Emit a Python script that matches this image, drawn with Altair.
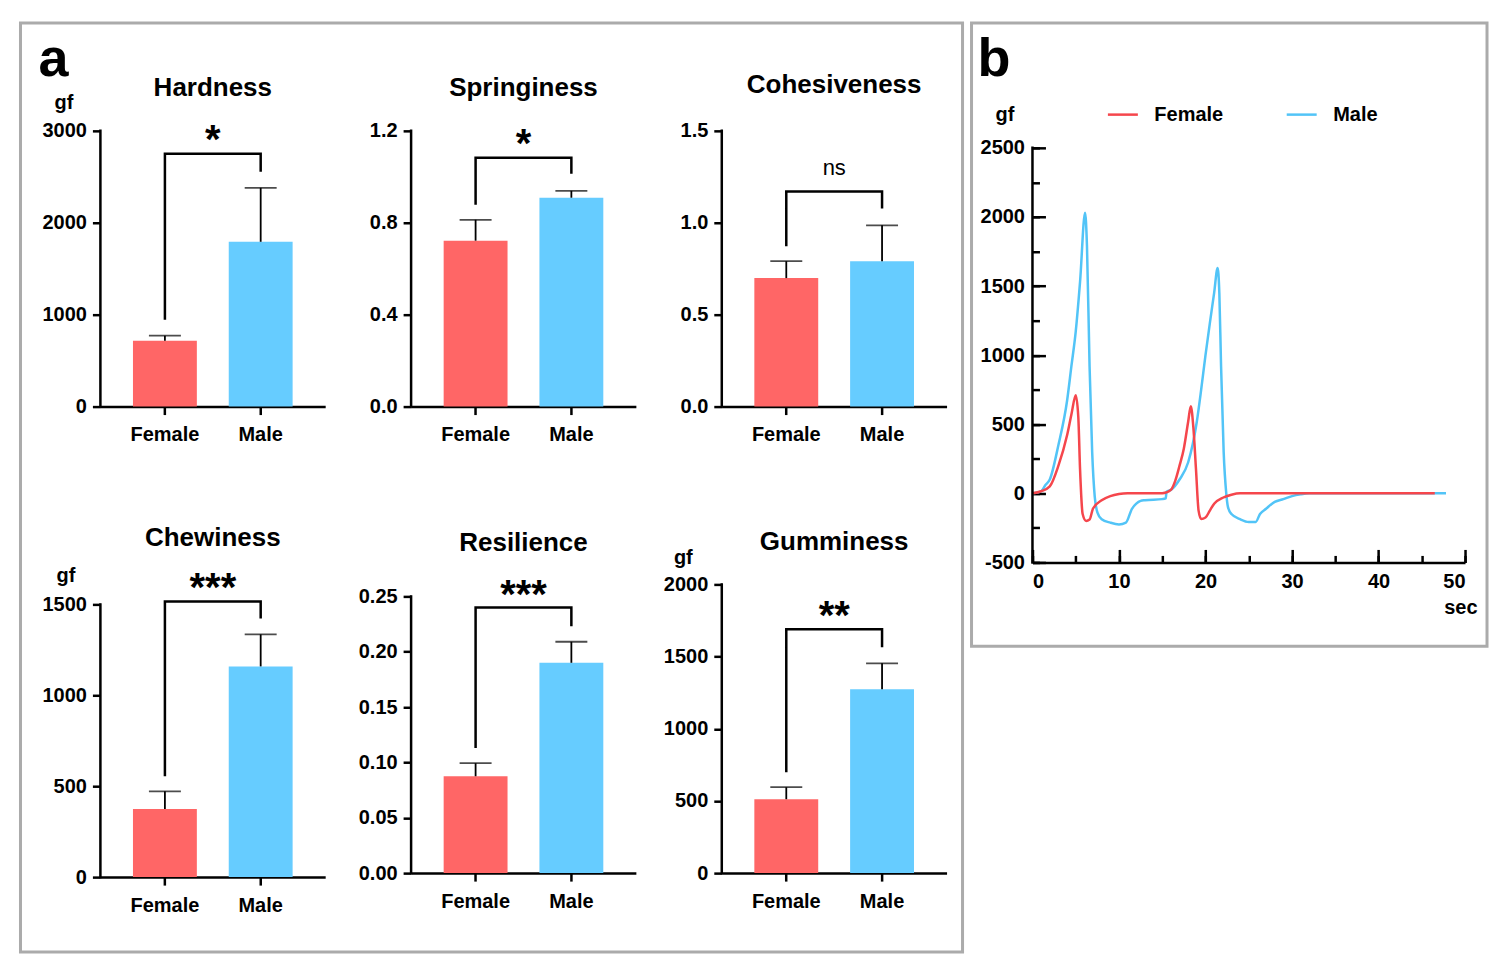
import altair as alt
import pandas as pd

FONT = "Liberation Sans"
INK = "#000000"
FRAME_GREY = "#ABABAB"

GROUPS = ["Female", "Male"]
BAR_COLOURS = ["#FF6666", "#66CCFF"]
LINE_COLOURS = ["#F5464C", "#52C4F7"]

# ---- panel a: bar means and upper error arm ----
HARDNESS_MEAN = [717, 1793]
HARDNESS_SD = [55, 587]
SPRINGINESS_MEAN = [0.722, 0.909]
SPRINGINESS_SD = [0.091, 0.030]
COHESIVENESS_MEAN = [0.699, 0.791]
COHESIVENESS_SD = [0.092, 0.195]
CHEWINESS_MEAN = [374, 1159]
CHEWINESS_SD = [98, 176]
RESILIENCE_MEAN = [0.0875, 0.190]
RESILIENCE_SD = [0.0118, 0.019]
GUMMINESS_MEAN = [512, 1273]
GUMMINESS_SD = [83, 180]

HARDNESS_TICKS = [0, 1000, 2000, 3000]
SPRINGINESS_TICKS = [0.0, 0.4, 0.8, 1.2]
COHESIVENESS_TICKS = [0.0, 0.5, 1.0, 1.5]
CHEWINESS_TICKS = [0, 500, 1000, 1500]
RESILIENCE_TICKS = [0.0, 0.05, 0.10, 0.15, 0.20, 0.25]
GUMMINESS_TICKS = [0, 500, 1000, 1500, 2000]

# significance brackets: female leg foot, bracket level, male leg foot
HARDNESS_BRACKET = [946, 2750, 2554]
SPRINGINESS_BRACKET = [0.878, 1.083, 1.013]
COHESIVENESS_BRACKET = [0.872, 1.170, 1.078]
CHEWINESS_BRACKET = [555, 1516, 1423]
RESILIENCE_BRACKET = [0.113, 0.240, 0.223]
GUMMINESS_BRACKET = [699, 1689, 1564]

SIG_LABELS = ["*", "*", "ns", "***", "***", "**"]
SIG_LEVELS = [2957, 1.165, 1.278, 1615, 0.256, 1813]

# ---- panel b: texture profile curves ----
FEMALE_T = [0, 1, 2, 3, 4, 4.5, 5.0, 5.3, 5.5, 5.8, 6.2, 6.6, 7, 8, 9, 10, 11, 15,
            16, 16.5, 17, 17.5, 18, 18.3, 18.6, 18.9, 19.2, 19.5, 20, 20.5, 21, 22,
            23, 24, 46.5]
FEMALE_F = [0, 15, 50, 200, 420, 570, 710, 550, 175, -150, -200, -190, -110, -50,
            -20, -5, 0, 0, 25, 90, 200, 325, 520, 630, 475, 175, -125, -185, -175,
            -125, -75, -32, -10, 0, 0]
MALE_T = [0, 1, 1.5, 2, 3, 4, 4.5, 5, 5.5, 6.08, 6.3, 6.6, 6.9, 7.2, 7.5, 8, 9, 10,
          10.8, 11.5, 12, 12.5, 13, 15, 15.4, 15.5, 16, 17, 18, 19, 19.5, 20, 20.5,
          21, 21.4, 21.6, 21.8, 22.1, 22.4, 22.6, 23, 24, 25, 25.8, 26.3, 27, 28, 29,
          30, 31, 32, 47.8]
MALE_F = [0, 15, 60, 100, 350, 670, 920, 1170, 1530, 2030, 1790, 920, 300, -25, -137,
          -187, -212, -225, -212, -112, -75, -55, -50, -42, -37, 12, 25, 100, 225, 520,
          750, 1000, 1230, 1450, 1630, 1450, 920, 300, 0, -100, -150, -187, -207, -207,
          -150, -112, -62, -42, -20, -7, 0, 0]

B_X_TICKS = [0, 10, 20, 30, 40, 50]
B_X_MINOR = [0, 5, 10, 15, 20, 25, 30, 35, 40, 45, 50]
B_Y_TICKS = [-500, 0, 500, 1000, 1500, 2000, 2500]
B_Y_MINOR = [-500, -250, 0, 250, 500, 750, 1000, 1250, 1500, 1750, 2000, 2250, 2500]

# ---- layout ----
W = 225
STEP = 96
WB, HB_AXIS, HB_HEAD = 433, 415, 17
LABEL_SIZE = 20


def y_enc(field, ticks, fmt, top, unit):
    axis = {"values": ticks, "format": fmt, "domain": False, "tickSize": 8, "labelPadding": 6}
    if unit:
        axis.update(title=unit[0], titleAngle=0, titleX=unit[1], titleY=unit[2],
                    titleAlign="center", titleBaseline="alphabetic")
    else:
        axis["title"] = None
    return alt.Y(field, scale=alt.Scale(domain=[0, top], nice=False, zero=True),
                 axis=alt.Axis(**axis))


X_BAND = alt.X(
    "group:N",
    scale=alt.Scale(domain=GROUPS, paddingInner=0.333, paddingOuter=0.34),
    axis=alt.Axis(title=None, labelAngle=0, tickSize=8, labelPadding=10),
)


def frame(x1, x2, y1, y2):
    return (
        alt.Chart(pd.DataFrame({"k": [0]}))
        .mark_rect(fill="white", fillOpacity=0, stroke=FRAME_GREY, strokeWidth=3)
        .encode(x=alt.value(x1), x2=alt.value(x2), y=alt.value(y1), y2=alt.value(y2))
    )


def letter(label, x, y):
    return (
        alt.Chart(pd.DataFrame({"t": [label]}))
        .mark_text(font=FONT, fontSize=54, fontWeight="bold", color=INK,
                   align="left", baseline="alphabetic")
        .encode(x=alt.value(x), y=alt.value(y), text="t:N")
    )


def bar_panel(title, mean, sd, ticks, fmt, bracket, sig, sig_level,
              axis_h, head, title_y, unit=None, extra=()):
    top = ticks[-1] * (axis_h + head) / axis_h
    bars_df = pd.DataFrame({
        "group": GROUPS, "v": mean,
        "v2": [m + s for m, s in zip(mean, sd)],
    })
    bracket_df = pd.DataFrame({
        "group": ["Female", "Female", "Male", "Male"],
        "v": [bracket[0], bracket[1], bracket[1], bracket[2]],
        "k": [0, 1, 2, 3],
    })
    sig_df = pd.DataFrame({"group": ["Female"], "v": [sig_level], "t": [sig]})
    axis_df = pd.DataFrame({"v": [ticks[0]], "v2": [ticks[-1]]})

    def y(field):
        return y_enc(field, ticks, fmt, top, unit)

    bars = alt.Chart(bars_df).mark_bar().encode(
        x=X_BAND, y=y("v:Q"),
        color=alt.Color("group:N", scale=alt.Scale(domain=GROUPS, range=BAR_COLOURS), legend=None),
    )
    arms = alt.Chart(bars_df).mark_rule(color=INK, strokeWidth=1.8).encode(
        x=X_BAND, y=y("v:Q"), y2="v2:Q")
    caps = alt.Chart(bars_df).mark_tick(color=INK, thickness=1.8, size=32).encode(
        x=X_BAND, y=y("v2:Q"))
    y_line = alt.Chart(axis_df).mark_rule(color=INK, strokeWidth=2.5, strokeCap="square").encode(
        x=alt.value(0), y=y("v:Q"), y2="v2:Q")
    brk = alt.Chart(bracket_df).mark_line(color=INK, strokeWidth=2.5).encode(
        x=X_BAND, y=y("v:Q"), order="k:O")
    if sig == "ns":
        sig_style = dict(fontSize=22, fontWeight="normal", dy=3)
    else:
        sig_style = dict(fontSize=40, fontWeight="bold", dy=18)
    stars = alt.Chart(sig_df).mark_text(
        font=FONT, color=INK, baseline="alphabetic", dx=STEP / 2, **sig_style
    ).encode(x=X_BAND, y=y("v:Q"), text="t:N")
    heading = alt.Chart(pd.DataFrame({"t": [title]})).mark_text(
        font=FONT, fontSize=26, fontWeight="bold", color=INK, baseline="alphabetic"
    ).encode(x=alt.value(W / 2), y=alt.value(title_y), text="t:N")

    return alt.layer(bars, arms, caps, y_line, brk, stars, heading, *extra).properties(
        width=W, height=axis_h + head)


hardness = bar_panel("Hardness", HARDNESS_MEAN, HARDNESS_SD, HARDNESS_TICKS, "d",
                     HARDNESS_BRACKET, SIG_LABELS[0], SIG_LEVELS[0], 276, 0, -35,
                     unit=("gf", -37, -22),
                     extra=(frame(-80, 863, -108, 822), letter("a", -62, -55)))
springiness = bar_panel("Springiness", SPRINGINESS_MEAN, SPRINGINESS_SD, SPRINGINESS_TICKS, ".1f",
                        SPRINGINESS_BRACKET, SIG_LABELS[1], SIG_LEVELS[1], 276, 0, -35)
cohesiveness = bar_panel("Cohesiveness", COHESIVENESS_MEAN, COHESIVENESS_SD, COHESIVENESS_TICKS, ".1f",
                         COHESIVENESS_BRACKET, SIG_LABELS[2], SIG_LEVELS[2], 276, 0, -38)
chewiness = bar_panel("Chewiness", CHEWINESS_MEAN, CHEWINESS_SD, CHEWINESS_TICKS, "d",
                      CHEWINESS_BRACKET, SIG_LABELS[3], SIG_LEVELS[3], 273, 20, -38,
                      unit=("gf", -35, -3))
resilience = bar_panel("Resilience", RESILIENCE_MEAN, RESILIENCE_SD, RESILIENCE_TICKS, ".2f",
                       RESILIENCE_BRACKET, SIG_LABELS[4], SIG_LEVELS[4], 277, 12, -33)
gumminess = bar_panel("Gumminess", GUMMINESS_MEAN, GUMMINESS_SD, GUMMINESS_TICKS, "d",
                      GUMMINESS_BRACKET, SIG_LABELS[5], SIG_LEVELS[5], 289, 0, -34,
                      unit=("gf", -39, -21))

# ---- panel b ----
HB = HB_AXIS + HB_HEAD
y_top_b = B_Y_TICKS[-1] + HB_HEAD * (B_Y_TICKS[-1] - B_Y_TICKS[0]) / HB_AXIS
xs = alt.Scale(domain=[B_X_TICKS[0], B_X_TICKS[-1]], nice=False)
ys = alt.Scale(domain=[B_Y_TICKS[0], y_top_b], nice=False)

x_main = alt.X("t:Q", scale=xs, axis=alt.Axis(
    values=B_X_TICKS, format="d", offset=-13, tickSize=13, domain=False, labelPadding=9,
    title="sec", titleX=445, titleY=64, titleAlign="right", titleBaseline="alphabetic"))
y_main = alt.Y("f:Q", scale=ys, axis=alt.Axis(
    values=B_Y_TICKS, labelExpr="'' + datum.value", offset=-13, tickSize=13, domain=False,
    labelPadding=8, title="gf", titleAngle=0, titleX=-41, titleY=-10, titleAlign="center",
    titleBaseline="alphabetic"))
colour = alt.Color("sex:N", scale=alt.Scale(domain=GROUPS, range=LINE_COLOURS), legend=alt.Legend(
    orient="none", legendX=74, legendY=-33, direction="horizontal", title=None,
    symbolType="stroke", symbolSize=900, symbolStrokeWidth=2.5, labelOffset=15,
    columnPadding=58, padding=0, labelFont=FONT, labelFontSize=LABEL_SIZE,
    labelFontWeight="bold", labelColor=INK))

male_df = pd.DataFrame({"sex": "Male", "t": MALE_T, "f": MALE_F})
female_df = pd.DataFrame({"sex": "Female", "t": FEMALE_T, "f": FEMALE_F})

male_line = alt.Chart(male_df).mark_line(strokeWidth=2.5, interpolate="monotone").encode(
    x=x_main, y=y_main, color=colour)
female_line = alt.Chart(female_df).mark_line(strokeWidth=2.5, interpolate="monotone").encode(
    x=x_main, y=y_main, color=colour)
curves = alt.layer(male_line, female_line)

minor = alt.Chart(female_df).mark_line(opacity=0).encode(
    x=alt.X("t:Q", scale=xs, axis=alt.Axis(orient="top", offset=-HB, values=B_X_MINOR,
                                             tickSize=7, labels=False, domain=True, title=None)),
    y=alt.Y("f:Q", scale=ys, axis=alt.Axis(orient="right", offset=-WB, values=B_Y_MINOR,
                                             tickSize=7, labels=False, domain=False, title=None)),
)
y_line_b = alt.Chart(pd.DataFrame({"f": [B_Y_TICKS[0]], "f2": [B_Y_TICKS[-1]]})).mark_rule(
    color=INK, strokeWidth=2.5, strokeCap="square").encode(
    x=alt.value(0), y=alt.Y("f:Q", scale=ys, axis=None), y2="f2:Q")

panel_b = (
    alt.layer(curves, minor, y_line_b, frame(-61, 455, -108, 516), letter("b", -55, -55))
    .resolve_axis(x="independent", y="independent")
    .properties(width=WB, height=HB)
)

# rows are stacked by the tallest cell of the first row (panel b)
chart = (
    alt.concat(hardness, springiness, cohesiveness, panel_b, chewiness, resilience, gumminess,
               columns=4, align="none", bounds="flush", spacing={"row": 22, "column": 86})
    .resolve_scale(color="independent")
    .properties(padding={"left": 10.5, "top": 12.5, "right": 10, "bottom": 10}, background="white")
    .configure_view(stroke=None)
    .configure_axis(domainColor=INK, domainWidth=2.5, tickColor=INK, tickWidth=2.5, grid=False,
                    labelColor=INK, labelFont=FONT, labelFontSize=LABEL_SIZE, labelFontWeight="bold",
                    titleColor=INK, titleFont=FONT, titleFontSize=LABEL_SIZE, titleFontWeight="bold")
)

chart.save("out.html", embed_options={"renderer": "svg", "actions": False})
